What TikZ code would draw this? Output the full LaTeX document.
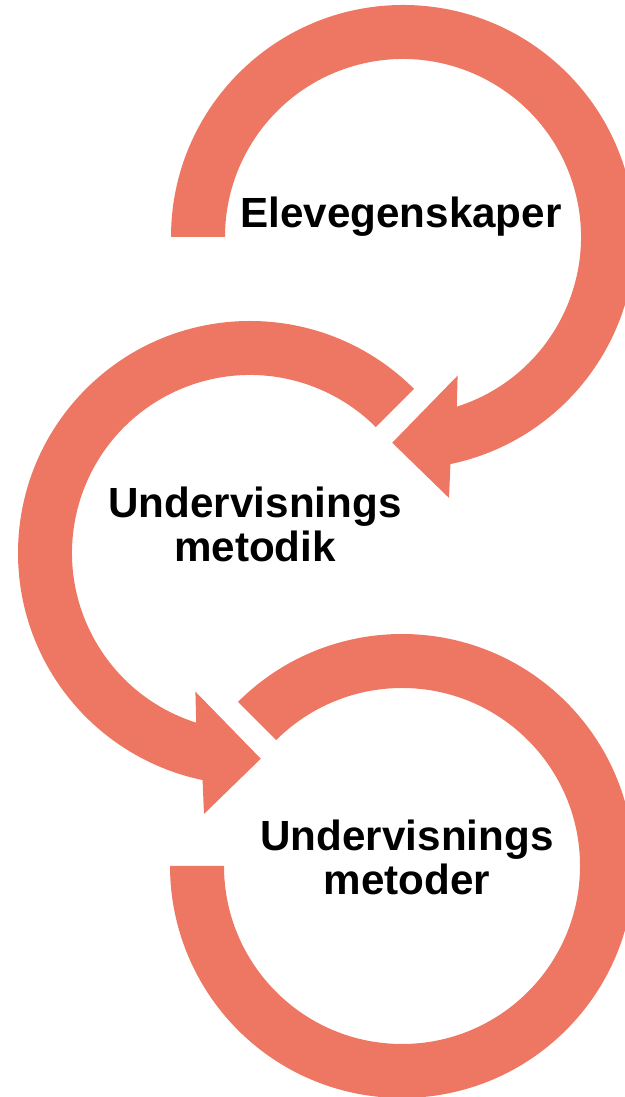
\documentclass[tikz,border=0pt]{standalone}
\usepackage{fontspec}
\setmainfont{Liberation Sans}
\usepackage{xcolor}
\definecolor{arcsalmon}{RGB}{237,119,99}
\definecolor{textblack}{RGB}{0,0,0}

\begin{document}
\begin{tikzpicture}[
  x=0.25mm, y=0.25mm,
  ring/.style={fill=arcsalmon, draw=none},
  lbl/.style={font=\fontsize{30}{31.3}\selectfont\bfseries, text=textblack, align=center, inner sep=0pt}
]
\useasboundingbox (0,0) rectangle (625,1097);
\clip (0,0) rectangle (625,1097);
% centres of the three rings
\coordinate (ctop) at (403,860);
\coordinate (cmid) at (250,544);
\coordinate (cbot) at (402,231);

\fill[ring, shift={(ctop)}] (180:232) arc[start angle=180, end angle=-78.2, radius=232]
  -- (-80:265) -- (-93:206) -- (-68.5:149) -- (-72.4:178)
  arc[start angle=-72.4, end angle=180, radius=178] -- cycle;
\fill[ring, shift={(cmid)}] (45:232) arc[start angle=45, end angle=258.2, radius=232]
  -- (260:265) -- (273:206) -- (248.5:149) -- (252.4:178)
  arc[start angle=252.4, end angle=45, radius=178] -- cycle;
\fill[ring, shift={(cbot)}] (135:232) arc[start angle=135, end angle=-180, radius=232]
  -- (-180:178) arc[start angle=-180, end angle=135, radius=178] -- cycle;

\node[lbl, anchor=base] (elev) at (401,869) {Elevegenskaper};
\node[lbl] (metodik) at (255,573) {Undervisnings\\metodik};
\node[lbl] (metoder) at (407,240) {Undervisnings\\metoder};
\end{tikzpicture}
\end{document}
